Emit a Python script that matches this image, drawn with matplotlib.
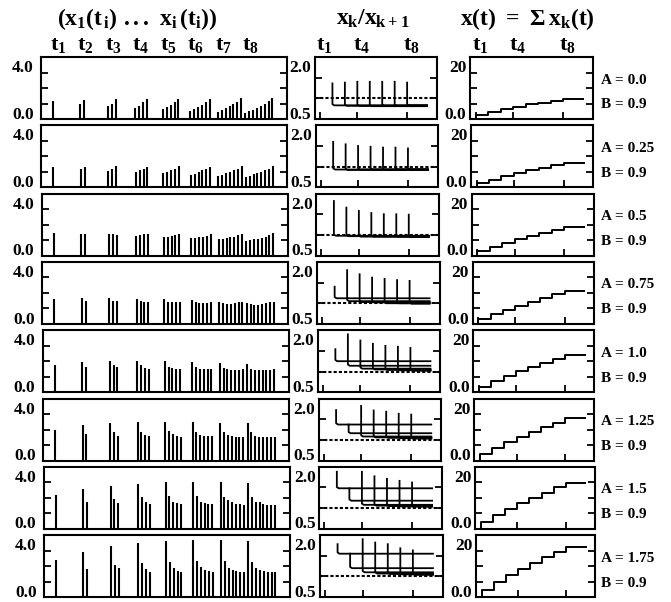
import matplotlib
matplotlib.use("Agg")
import matplotlib.pyplot as plt
import numpy as np

plt.rcParams["font.family"] = ["Liberation Serif", "DejaVu Serif"]
plt.rcParams["font.weight"] = "bold"
plt.rcParams["mathtext.fontset"] = "custom"
plt.rcParams["mathtext.rm"] = "Liberation Serif:bold"
plt.rcParams["mathtext.it"] = "Liberation Serif:bold"
plt.rcParams["mathtext.bf"] = "Liberation Serif:bold"

# --- data ---
A_labels = ["0.0", "0.25", "0.5", "0.75", "1.0", "1.25", "1.5", "1.75"]
B_label = "0.9"
times = [1, 2, 3, 4, 5, 6, 7, 8]
t_end = 9.6

# x_1(t_i) ... x_i(t_i), one list per time t_i
bars_a000 = [[1.14], [0.97, 1.23], [0.86, 1.0, 1.29], [0.71, 0.86, 1.07, 1.29],
             [0.65, 0.75, 0.92, 1.12, 1.29], [0.54, 0.65, 0.8, 0.92, 1.07, 1.29],
             [0.43, 0.58, 0.69, 0.82, 0.97, 1.12, 1.35],
             [0.39, 0.49, 0.6, 0.71, 0.82, 0.97, 1.14, 1.33]]
bars_a025 = [[1.3], [1.15, 1.3], [1.04, 1.2, 1.35], [0.98, 1.09, 1.2, 1.3],
             [0.91, 0.98, 1.09, 1.2, 1.35], [0.8, 0.87, 0.98, 1.09, 1.17, 1.3],
             [0.74, 0.8, 0.91, 1.0, 1.09, 1.2, 1.37],
             [0.65, 0.74, 0.83, 0.91, 0.98, 1.09, 1.2, 1.35]]
bars_a050 = [[1.44], [1.4, 1.4], [1.38, 1.38, 1.33], [1.27, 1.33, 1.38, 1.4],
             [1.2, 1.18, 1.27, 1.33, 1.4], [1.12, 1.16, 1.18, 1.23, 1.29, 1.4],
             [1.05, 1.08, 1.12, 1.18, 1.23, 1.33, 1.4],
             [0.97, 1.01, 1.05, 1.08, 1.12, 1.23, 1.33, 1.44]]
bars_a075 = [[1.6], [1.65, 1.47], [1.65, 1.5, 1.47], [1.6, 1.47, 1.43, 1.43],
             [1.58, 1.43, 1.39, 1.39, 1.43], [1.54, 1.39, 1.32, 1.32, 1.37, 1.43],
             [1.43, 1.37, 1.28, 1.28, 1.32, 1.39, 1.43],
             [1.37, 1.28, 1.22, 1.22, 1.28, 1.32, 1.39, 1.43]]
bars_a100 = [[1.73], [1.96, 1.6], [2.0, 1.78, 1.6], [2.04, 1.78, 1.56, 1.51],
             [2.04, 1.6, 1.56, 1.51, 1.51], [1.96, 1.6, 1.51, 1.49, 1.49, 1.51],
             [1.89, 1.56, 1.49, 1.44, 1.44, 1.44, 1.49],
             [1.82, 1.51, 1.4, 1.4, 1.4, 1.4, 1.44, 1.49]]
bars_a125 = [[1.98], [2.26, 1.7], [2.41, 1.83, 1.61], [2.48, 1.83, 1.65, 1.61],
             [2.48, 1.91, 1.7, 1.61, 1.54], [2.48, 1.83, 1.65, 1.59, 1.59, 1.59],
             [2.41, 1.83, 1.65, 1.61, 1.54, 1.54, 1.54],
             [2.41, 1.83, 1.61, 1.54, 1.54, 1.54, 1.54, 1.54]]
bars_a150 = [[2.15], [2.57, 1.76], [2.78, 1.91, 1.65], [2.91, 2.02, 1.72, 1.59],
             [3.0, 2.09, 1.76, 1.65, 1.59], [3.0, 2.09, 1.76, 1.65, 1.61, 1.59],
             [3.02, 2.04, 1.83, 1.7, 1.61, 1.59, 1.54],
             [2.96, 2.04, 1.76, 1.7, 1.59, 1.54, 1.54, 1.54]]
bars_a175 = [[2.4], [2.93, 1.82], [3.29, 2.1, 1.9], [3.49, 2.22, 1.82, 1.62],
             [3.62, 2.29, 1.89, 1.71, 1.62], [3.67, 2.33, 1.93, 1.73, 1.71, 1.62],
             [3.67, 2.33, 1.89, 1.73, 1.67, 1.62, 1.62],
             [3.62, 2.29, 1.89, 1.73, 1.67, 1.62, 1.62, 1.62]]
bars = [bars_a000, bars_a025, bars_a050, bars_a075,
        bars_a100, bars_a125, bars_a150, bars_a175]

# x_k/x_{k+1}, k = 1..7: value at its start t_{k+1} and the level it settles to
ratio_peak = [[1.36, 1.38, 1.4, 1.4, 1.4, 1.4, 1.38],
              [1.6, 1.54, 1.5, 1.48, 1.46, 1.46, 1.44],
              [1.82, 1.66, 1.58, 1.53, 1.5, 1.5, 1.49],
              [1.4, 1.8, 1.7, 1.62, 1.59, 1.56, 1.54],
              [1.54, 1.9, 1.75, 1.67, 1.62, 1.6, 1.57],
              [1.72, 1.37, 1.82, 1.71, 1.68, 1.63, 1.61],
              [1.88, 1.48, 1.88, 1.77, 1.71, 1.66, 1.62],
              [1.78, 1.55, 1.9, 1.82, 1.78, 1.68, 1.63]]
ratio_level = [[0.83, 0.82, 0.82, 0.81, 0.82, 0.82, 0.83],
               [0.93, 0.92, 0.93, 0.93, 0.92, 0.93, 0.93],
               [0.98, 0.97, 0.96, 0.96, 0.97, 0.96, 0.95],
               [1.12, 1.05, 1.03, 1.02, 1.0, 1.0, 0.99],
               [1.25, 1.14, 1.07, 1.05, 1.04, 1.03, 1.02],
               [1.37, 1.16, 1.08, 1.06, 1.05, 1.04, 1.03],
               [1.48, 1.18, 1.08, 1.06, 1.05, 1.04, 1.04],
               [1.55, 1.2, 1.1, 1.07, 1.06, 1.05, 1.04]]

W, H = 671, 602
fig = plt.figure(figsize=(W / 100, H / 100), dpi=100)


def box(left, top, right, bottom):
    return [left / W, 1 - bottom / H, (right - left) / W, (bottom - top) / H]


def frame(ax, xt, yt):
    for s in ax.spines.values():
        s.set_linewidth(1.5)
    ax.set_xticks(xt)
    ax.set_yticks(yt)
    ax.tick_params(direction="in", length=5, width=1.3, left=True, right=True,
                   top=False, bottom=bool(xt), labelleft=False, labelbottom=False)


def ylabels(ax, top_txt, bot_txt):
    ax.text(-0.03, 0.82, top_txt, transform=ax.transAxes, ha="right", va="center", fontsize=12.5)
    ax.text(-0.03, 0.07, bot_txt, transform=ax.transAxes, ha="right", va="center", fontsize=12.5)


axes_top = []
for r in range(8):
    top = 57 + 68.3 * r
    bot = top + 62
    f = r / 7

    # column 1: x_1(t_i) ... x_i(t_i)
    ax1 = fig.add_axes(box(41 + 3 * f, top, 287 + 3 * f, bot))
    for i, grp in enumerate(bars[r]):
        xs = times[i] + 0.14 * np.arange(len(grp))
        ax1.vlines(xs, 0, grp, color="black", lw=1.5)
    ax1.set_xlim(0.564, 9.51)
    ax1.set_ylim(0, 4)
    frame(ax1, [], [1, 2, 3])
    ylabels(ax1, "4.0", "0.0")

    # column 2: x_k / x_{k+1}
    ax2 = fig.add_axes(box(315 + 5 * f, top, 437 + 6 * f, bot))
    ax2.axhline(1.0, color="black", lw=1.5, ls=(0, (1.5, 1)))
    for k in range(7):
        t0 = times[k + 1]
        pk, lv = ratio_peak[r][k], ratio_level[r][k]
        ax2.plot([t0, t0, t0 + 0.15, t_end], [pk, lv + 0.03, lv, lv], color="black", lw=1.3)
    ax2.set_xlim(0.6, 10.4)
    ax2.set_ylim(0.5, 2.0)
    frame(ax2, [1, 4, 8], [1.0, 1.5])
    ylabels(ax2, "2.0", "0.5")

    # column 3: x(t) = sum x_k(t)
    ax3 = fig.add_axes(box(470 + 6 * f, top, 593 + 2 * f, bot))
    sums = [sum(g) for g in bars[r]]
    ax3.plot([times[0]] + times + [t_end], [0] + sums + [sums[-1]],
             drawstyle="steps-post", color="black", lw=1.4)
    ax3.set_xlim(0.54, 10.37)
    ax3.set_ylim(0, 20)
    frame(ax3, [1, 4, 8], [5, 10, 15])
    ylabels(ax3, "20", "0.0")

    fig.text(601 / W, 1 - (top + 23) / H, "A = " + A_labels[r], ha="left", va="center", fontsize=11)
    fig.text(601 / W, 1 - (top + 48) / H, "B = " + B_label, ha="left", va="center", fontsize=11)

    if r == 0:
        axes_top = [ax1, ax2, ax3]

# column headers
ax1, ax2, ax3 = axes_top
ax1.text(0.39, 1.62, r"$(x_1(t_{\,i})\ ...\ x_i\,(t_i))$", transform=ax1.transAxes,
         ha="center", va="center", fontsize=17)
for t in times:
    ax1.text(t + 0.18, 1.19, r"$t_%d$" % t, transform=ax1.get_xaxis_transform(),
             ha="center", va="center", fontsize=16)
ax2.text(0.47, 1.62, r"$x_k/x_{k+1}$", transform=ax2.transAxes,
         ha="center", va="center", fontsize=17)
ax3.text(0.47, 1.62, r"$x(t)\ =\ \Sigma\,x_k(t)$", transform=ax3.transAxes,
         ha="center", va="center", fontsize=17)
for ax in (ax2, ax3):
    for t in (1, 4, 8):
        ax.text(t + 0.35, 1.19, r"$t_%d$" % t, transform=ax.get_xaxis_transform(),
                ha="center", va="center", fontsize=16)

fig.savefig("out.png", dpi=100)
